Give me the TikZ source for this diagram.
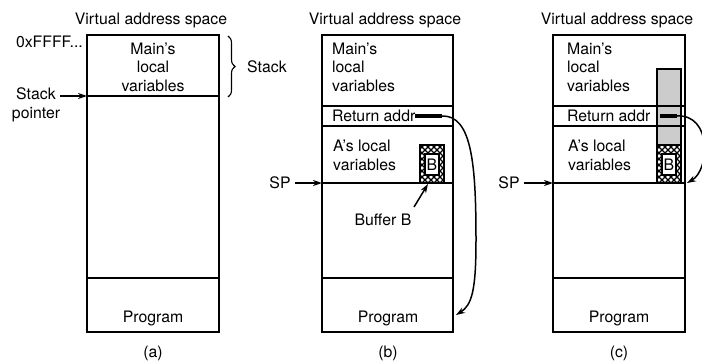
\documentclass[tikz,border=0pt]{standalone}
\usepackage{fontspec}
\setmainfont{TeX Gyre Heros}
\usetikzlibrary{arrows.meta,decorations.pathreplacing}
\begin{document}
\begin{tikzpicture}[x=1pt,y=-1pt,
  lbl/.style={inner sep=0pt, font=\fontsize{15.8}{18.5}\selectfont},
  frame/.style={line width=1.6pt},
  arr/.style={line width=1.5pt,-{Stealth[length=9pt,width=6pt]}},
  retbar/.style={line width=4pt},
  hbuf/.pic={
    \begin{scope}
      \clip (0,0) rectangle (24,-38);
      \fill[white] (0,0) rectangle (24,-38);
      \foreach \k in {-40,-34,...,64} {
        \draw[line width=1.4pt] (\k,0) -- ++(40,-40);
        \draw[line width=1.4pt] (\k,0) -- ++(-40,-40);
      }
    \end{scope}
    \draw[line width=1.4pt] (0,0) rectangle (24,-38);
    \draw[fill=white, line width=1.2pt] (5,-8) rectangle (19,-29);
    \node[lbl] (-B) at (12,-18.5) {B};
  }
]
\useasboundingbox (0,0) rectangle (702,364);

% ---------- panel (a)
\node[lbl] (ta) at (151,20) {Virtual address space};
\draw[frame] (87,35) rectangle (219,332);
\draw[frame] (87,96) -- (219,96);
\draw[frame] (87,278) -- (219,278);
\node[lbl, anchor=east] (ffff) at (83,42) {0xFFFF...};
\node[lbl, align=center] (mla) at (153,67) {Main's\\local\\variables};
\node[lbl] (pa) at (153,318) {Program};
\node[lbl] (capa) at (153,353) {(a)};
\node[lbl, align=center] (spa) at (36,105) {Stack\\pointer};
\coordinate (spatail) at (60,96);
\coordinate (spatip) at (87,96);
\draw[arr] (spatail) -- (spatip);
\coordinate (brt) at (228,36);
\coordinate (brb) at (228,97);
\draw[line width=1.1pt, decorate, decoration={brace, amplitude=7pt}] (brt) -- (brb);
\node[lbl, anchor=west] (stk) at (247,67) {Stack};

% ---------- panel (b)
\node[lbl] (tb) at (385,20) {Virtual address space};
\draw[frame] (322,35) rectangle (453,332);
\draw[frame] (322,106) -- (453,106);
\draw[frame] (322,126) -- (453,126);
\draw[frame] (322,183) -- (453,183);
\draw[frame] (322,278) -- (453,278);
\node[lbl, anchor=west, align=left] (mlb) at (332,67) {Main's\\local\\variables};
\node[lbl, anchor=west] (rab) at (332,116) {Return addr};
\node[lbl, anchor=west, align=left] (alb) at (333,155.5) {A's local\\variables};
\pic (bufb) at (420,183) {hbuf};
\draw[retbar] (415,116) -- (442,116);
\coordinate (rbend) at (442,116);
\coordinate (progb) at (456,315);
\draw[arr] (rbend) .. controls (472,115) and (476,165) .. (476,240)
                   .. controls (476,290) and (472,305) .. (progb);
\node[lbl] (pb) at (388,318) {Program};
\node[lbl] (capb) at (388,353) {(b)};
\node[lbl] (spb) at (280,183) {SP};
\coordinate (spbtip) at (322,183);
\draw[arr] (spb.east) ++(4,0) -- (spbtip);
\node[lbl] (bufbl) at (383,220) {Buffer B};
\coordinate (bufbtail) at (414,207);
\coordinate (bufbtip) at (428,184);
\draw[arr] (bufbtail) -- (bufbtip);

% ---------- panel (c)
\node[lbl] (tc) at (617,20) {Virtual address space};
\fill[gray!40] (657,69) rectangle (681,183);
\draw[frame] (553,35) rectangle (685,332);
\draw[frame] (553,106) -- (685,106);
\draw[frame] (553,126) -- (685,126);
\draw[frame] (553,183) -- (685,183);
\draw[frame] (553,278) -- (685,278);
\draw[line width=1.3pt] (657,69) rectangle (681,183);
\pic (bufc) at (657,183) {hbuf};
\node[lbl, anchor=west, align=left] (mlc) at (567,67) {Main's\\local\\variables};
\node[lbl, anchor=west] (rac) at (567,116) {Return addr};
\node[lbl, anchor=west, align=left] (alc) at (568,155.5) {A's local\\variables};
\draw[retbar] (660,116) -- (677,116);
\coordinate (rcend) at (677,116);
\coordinate (spctip2) at (687,183);
\draw[arr] (rcend) .. controls (712,114) and (710,170) .. (spctip2);
\node[lbl] (pc) at (619,318) {Program};
\node[lbl] (capc) at (619,353) {(c)};
\node[lbl] (spc) at (509,183) {SP};
\coordinate (spctip) at (553,183);
\draw[arr] (spc.east) ++(4,0) -- (spctip);
\end{tikzpicture}
\end{document}
